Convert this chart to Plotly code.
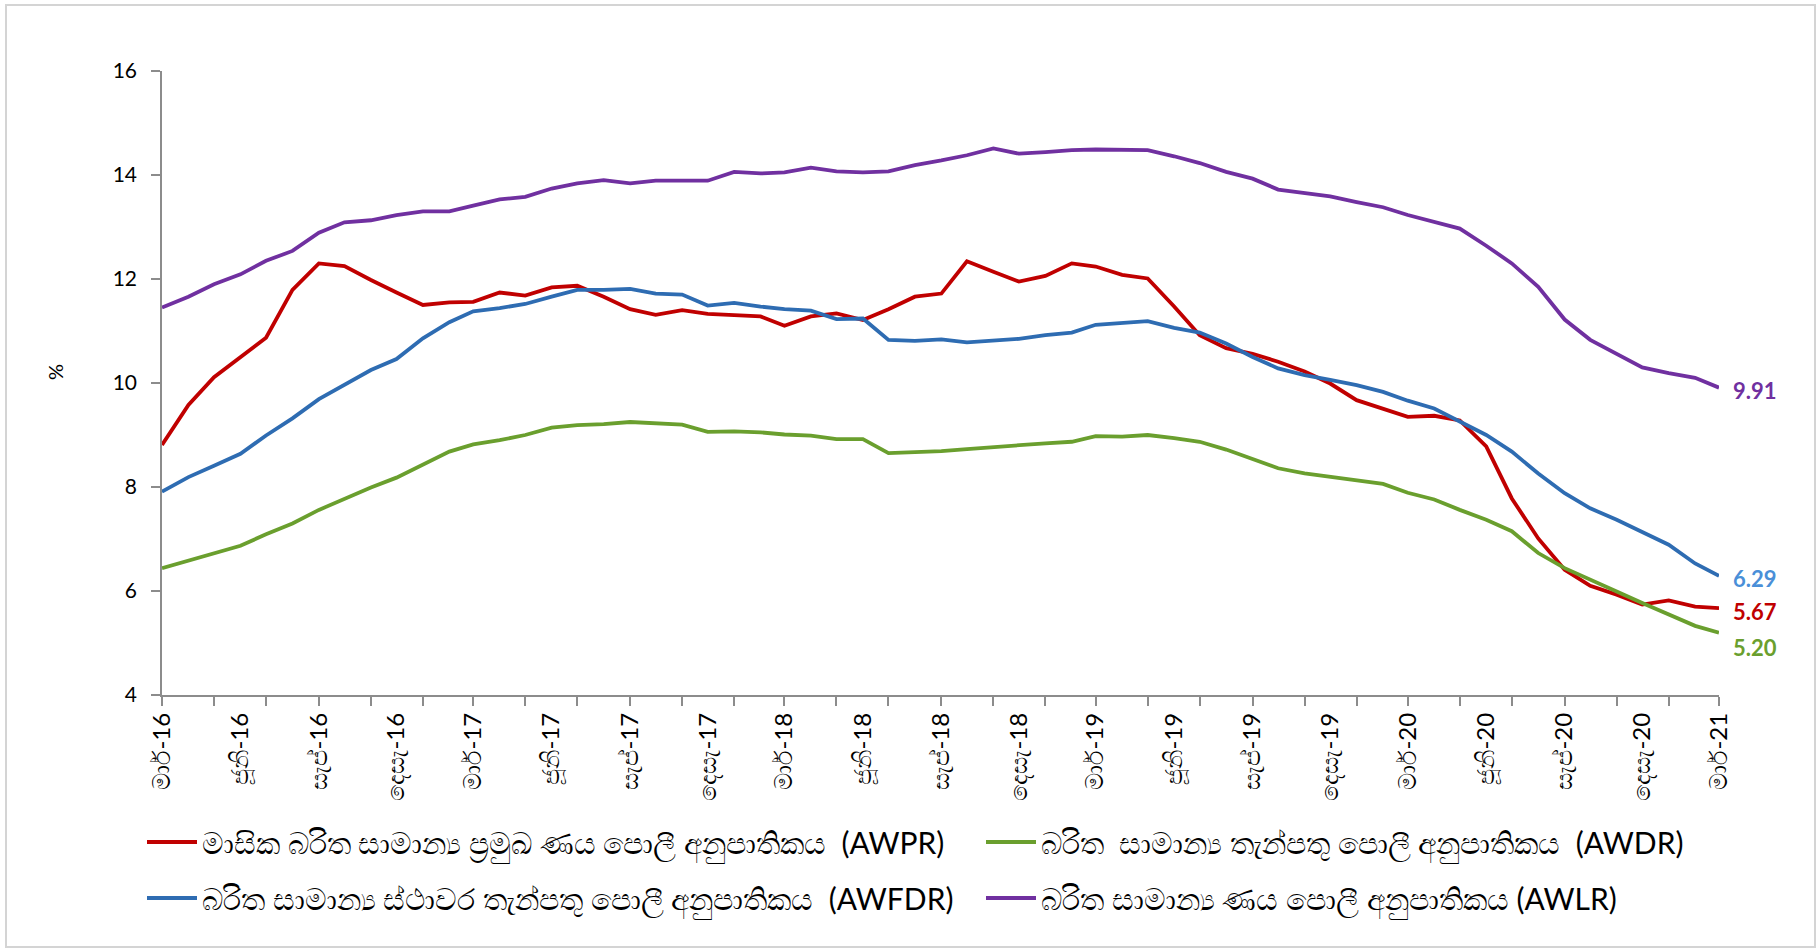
import pandas as pd
import plotly.graph_objects as go

# ---- data -------------------------------------------------------------
months = pd.date_range("2016-03-01", "2021-03-01", freq="MS")

awpr = [8.81, 9.58, 10.11, 10.49, 10.87, 11.79, 12.30, 12.25, 11.98, 11.74,
        11.50, 11.55, 11.56, 11.74, 11.68, 11.84, 11.87, 11.66, 11.42, 11.31,
        11.40, 11.33, 11.30, 11.28, 11.10, 11.28, 11.34, 11.21, 11.42, 11.66,
        11.72, 12.34, 12.14, 11.95, 12.06, 12.30, 12.24, 12.08, 12.01, 11.47,
        10.92, 10.67, 10.56, 10.41, 10.22, 9.99, 9.67, 9.51, 9.35, 9.37,
        9.28, 8.78, 7.78, 7.01, 6.41, 6.10, 5.93, 5.74, 5.82, 5.70, 5.67]

awdr = [6.44, 6.58, 6.73, 6.87, 7.09, 7.30, 7.56, 7.78, 7.99, 8.18,
        8.44, 8.68, 8.82, 8.90, 9.00, 9.14, 9.19, 9.21, 9.25, 9.22,
        9.20, 9.06, 9.07, 9.05, 9.01, 8.99, 8.92, 8.92, 8.65, 8.67,
        8.69, 8.73, 8.77, 8.80, 8.84, 8.87, 8.98, 8.97, 9.00, 8.94,
        8.87, 8.72, 8.53, 8.36, 8.26, 8.19, 8.13, 8.06, 7.89, 7.76,
        7.56, 7.37, 7.15, 6.73, 6.44, 6.21, 5.99, 5.77, 5.54, 5.33, 5.20]

awfdr = [7.91, 8.19, 8.41, 8.64, 8.99, 9.32, 9.69, 9.96, 10.25, 10.46,
         10.86, 11.17, 11.38, 11.44, 11.52, 11.66, 11.79, 11.79, 11.81, 11.72,
         11.70, 11.49, 11.54, 11.47, 11.42, 11.39, 11.23, 11.24, 10.83, 10.81,
         10.84, 10.78, 10.81, 10.85, 10.92, 10.97, 11.12, 11.15, 11.19, 11.06,
         10.97, 10.76, 10.50, 10.28, 10.15, 10.06, 9.96, 9.83, 9.66, 9.51,
         9.26, 9.00, 8.68, 8.26, 7.88, 7.59, 7.37, 7.14, 6.89, 6.53, 6.29]

awlr = [11.45, 11.66, 11.90, 12.09, 12.35, 12.54, 12.89, 13.09, 13.13, 13.23,
        13.30, 13.30, 13.41, 13.53, 13.58, 13.74, 13.84, 13.90, 13.84, 13.89,
        13.89, 13.89, 14.06, 14.03, 14.05, 14.14, 14.07, 14.05, 14.07, 14.19,
        14.28, 14.38, 14.51, 14.41, 14.44, 14.48, 14.49, 14.48, 14.48, 14.36,
        14.23, 14.06, 13.93, 13.72, 13.66, 13.59, 13.48, 13.38, 13.23, 13.09,
        12.97, 12.64, 12.30, 11.85, 11.22, 10.83, 10.57, 10.30, 10.19, 10.10, 9.91]

names = {
    "awpr": "මාසික බරිත සාමාන්‍ය ප්‍රමුඛ ණය පොලී අනුපාතිකය  (AWPR)",
    "awdr": "බරිත  සාමාන්‍ය තැන්පතු පොලී අනුපාතිකය  (AWDR)",
    "awfdr": "බරිත සාමාන්‍ය ස්ථාවර තැන්පතු පොලී අනුපාතිකය  (AWFDR)",
    "awlr": "බරිත සාමාන්‍ය ණය පොලී අනුපාතිකය (AWLR)",
}

label_months = ["මාර්", "ජූනි", "සැප්", "දෙසැ"]
label_dates = pd.date_range("2016-03-01", "2021-03-01", freq="3MS")
label_text = [f"{label_months[k % 4]}-{d.strftime('%y')}" for k, d in enumerate(label_dates)]
tick_dates = pd.date_range("2016-03-01", "2021-03-01", freq="2MS")

end_text = ["9.91", "6.29", "5.67", "5.20"]
end_values = [awlr[-1], awfdr[-1], awpr[-1], awdr[-1]]
end_colors = ["#7030A0", "#4A8FD8", "#C00000", "#6A9F2E"]
end_yshift = [-3, -3, -3, -15]

# ---- figure -----------------------------------------------------------
FONT = "Lato, 'Noto Sans', sans-serif"
colors = {"awpr": "#C00000", "awdr": "#6A9F2E", "awfdr": "#2E6CB2", "awlr": "#7030A0"}
series = {"awpr": awpr, "awdr": awdr, "awfdr": awfdr, "awlr": awlr}
legend_of = {"awpr": "legend", "awdr": "legend2", "awfdr": "legend3", "awlr": "legend4"}
# legend position of each entry (pixels: left x, row centre y)
legend_px = {"legend": (142, 842), "legend2": (981, 842), "legend3": (142, 898), "legend4": (981, 898)}
# the AWLR line sits on the overlay axis that carries the month labels (identical range)
xaxis_of = {"awpr": "x", "awdr": "x", "awfdr": "x", "awlr": "x2"}

fig = go.Figure()
for key in ["awpr", "awdr", "awfdr", "awlr"]:
    fig.add_trace(go.Scatter(
        x=months, y=series[key], mode="lines", name=names[key],
        line=dict(color=colors[key], width=3.8),
        legend=legend_of[key], xaxis=xaxis_of[key], yaxis="y",
    ))

L, R, T, B = 162, 100, 71, 255
W, H = 1819, 950
pw, ph = W - L - R, H - T - B

def px_x(x):
    return (x - L) / pw

def px_y(y):
    return (H - B - y) / ph

legends = {}
for lg, (lx, ly) in legend_px.items():
    legends[lg] = dict(orientation="h", xanchor="left", yanchor="middle",
                       x=px_x(lx), y=px_y(ly),
                       font=dict(size=30, family=FONT, color="#000000"),
                       itemwidth=50, bgcolor="rgba(0,0,0,0)")

fig.update_layout(
    width=W, height=H,
    margin=dict(l=L, r=R, t=T, b=B),
    paper_bgcolor="white", plot_bgcolor="white",
    font=dict(family=FONT, size=20, color="#000000"),
    showlegend=True,
    **legends,
    xaxis=dict(
        type="date", range=[months[0], months[-1]],
        tickmode="array", tickvals=list(tick_dates), showticklabels=False,
        ticks="outside", ticklen=9, tickwidth=1.5, tickcolor="#8C8C8C",
        showline=True, linecolor="#8C8C8C", linewidth=1.5, showgrid=False, zeroline=False,
    ),
    xaxis2=dict(
        type="date", overlaying="x", anchor="y", side="bottom",
        range=[months[0], months[-1]],
        tickmode="array", tickvals=list(label_dates), ticktext=label_text,
        tickangle=-90, ticks="", showline=False, showgrid=False, zeroline=False,
        ticklabelstandoff=12, tickfont=dict(size=24, family=FONT),
    ),
    yaxis=dict(
        range=[4, 16], tickmode="linear", tick0=4, dtick=2,
        ticks="outside", ticklen=9, tickwidth=1.5, tickcolor="#8C8C8C",
        showline=True, linecolor="#8C8C8C", linewidth=1.5, showgrid=False, zeroline=False,
        ticklabelstandoff=10, tickfont=dict(size=21, family=FONT),
    ),
)

fig.add_annotation(text="%", xref="paper", yref="paper", x=px_x(55), y=px_y(372),
                   textangle=-90, showarrow=False, xanchor="center", yanchor="middle",
                   font=dict(size=20, family=FONT))

for txt, val, col, ys in zip(end_text, end_values, end_colors, end_yshift):
    fig.add_annotation(x=months[-1], y=val, xref="x", yref="y", text=f"<b>{txt}</b>",
                       showarrow=False, xanchor="left", yanchor="middle", xshift=12, yshift=ys,
                       font=dict(size=22, color=col, family=FONT))

fig.add_shape(type="rect", xref="paper", yref="paper",
              x0=px_x(6), x1=px_x(1815), y0=px_y(947), y1=px_y(5),
              line=dict(color="#D4D4D4", width=2), fillcolor="rgba(0,0,0,0)", layer="below")

fig.write_html("out.html", config={"displayModeBar": False},
               post_script="document.body.style.margin='0';")
